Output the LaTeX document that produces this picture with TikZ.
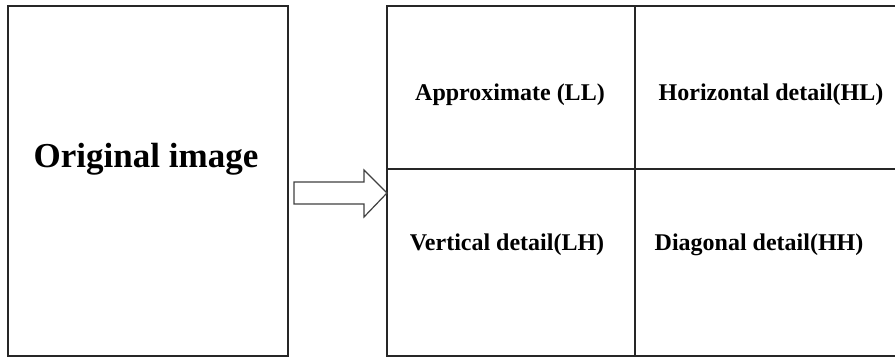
\documentclass[tikz,border=0pt]{standalone}
\usepackage{fontspec}
\setmainfont{Liberation Serif}
\usetikzlibrary{positioning}
\tikzset{
  frame/.style={draw=black!85, line width=1.8pt},
  gridline/.style={draw=black!85, line width=1.8pt},
  celltext/.style={font=\fontsize{24}{28}\selectfont\bfseries, inner sep=0pt, anchor=base},
  bigtext/.style={font=\fontsize{35}{40}\selectfont\bfseries, inner sep=0pt, anchor=base},
  blockarrow/.style={draw=black!75, line width=1.2pt, fill=white, line join=miter}
}
\begin{document}
\begin{tikzpicture}[x=1pt,y=-1pt]
  \useasboundingbox (0,0) rectangle (895,358);
  % left box
  \draw[frame] (8,6) rectangle (288,356);
  \node[bigtext] (orig) at (146,168) {Original image};
  % grid
  \draw[frame] (387,6) rectangle (898,356);
  \draw[gridline] (635,6) -- (635,356);
  \draw[gridline] (387,169) -- (898,169);
  % block arrow
  \draw[blockarrow] (294,182) -- (364,182) -- (364,170) -- (387,193) -- (364,217) -- (364,204) -- (294,204) -- cycle;
  % cell texts
  \node[celltext] (ll) at (510,101) {Approximate (LL)};
  \node[celltext] (hl) at (771,101) {Horizontal detail(HL)};
  \node[celltext] (lh) at (507,251) {Vertical detail(LH)};
  \node[celltext] (hh) at (759,251) {Diagonal detail(HH)};
\end{tikzpicture}
\end{document}
